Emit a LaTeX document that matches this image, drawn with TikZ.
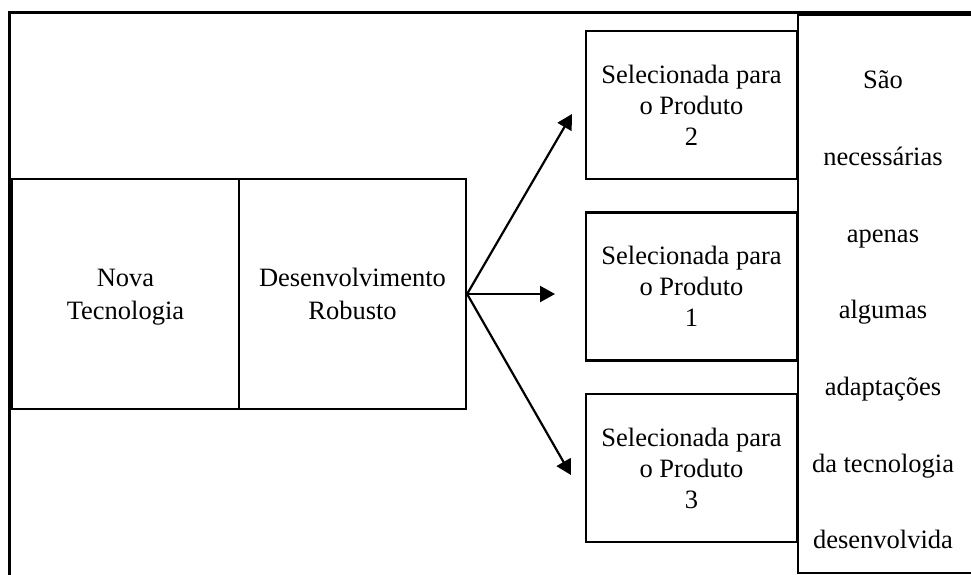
\documentclass[tikz,border=0pt]{standalone}
\usepackage{fontspec}
\setmainfont{Liberation Serif}
\usetikzlibrary{positioning,arrows.meta}

\tikzset{
  stagebox/.style={draw, line width=2.2pt, minimum width=227pt, minimum height=230pt, inner sep=0pt, text depth=-8pt, align=center, font=\fontsize{26.5}{33}\selectfont},
  prodbox/.style={draw, line width=2.2pt, minimum width=211pt, minimum height=148pt, inner sep=0pt, align=center, font=\fontsize{26.5}{31}\selectfont},
  flow/.style={line width=2.2pt, -{Triangle[length=15pt,width=16pt]}}
}

\begin{document}
\begin{tikzpicture}[x=1pt,y=-1pt]
    \clip (0,0) rectangle (971,574);
    % outer frame
    \draw[line width=3pt] (9.5,12.5) rectangle (1000,600);

    \node[stagebox] (nova) at (125.5,294) {Nova\\Tecnologia};
    \node[stagebox] (desen) at (352.5,294) {Desenvolvimento\\Robusto};

    \node[prodbox] (prod2) at (691.5,105) {Selecionada para\\o Produto\\2};
    \node[prodbox] (prod1) at (691.5,286.5) {Selecionada para\\o Produto\\1};
    \node[prodbox] (prod3) at (691.5,468) {Selecionada para\\o Produto\\3};

    % right column
    \node[draw, line width=2.2pt, anchor=north west, minimum width=200pt, minimum height=558pt, inner sep=0pt] (adapt) at (797,14) {};
    \node[align=center, font=\fontsize{26.5}{76.7}\selectfont] (adapttext) at (883,310)
        {São\\necessárias\\apenas\\algumas\\adaptações\\da tecnologia\\desenvolvida};

    \coordinate (tip2) at (572,114);
    \coordinate (tip1) at (555,294);
    \coordinate (tip3) at (571,475);
    \draw[flow] (desen.east) -- (tip2);
    \draw[flow] (desen.east) -- (tip1);
    \draw[flow] (desen.east) -- (tip3);
\end{tikzpicture}
\end{document}
